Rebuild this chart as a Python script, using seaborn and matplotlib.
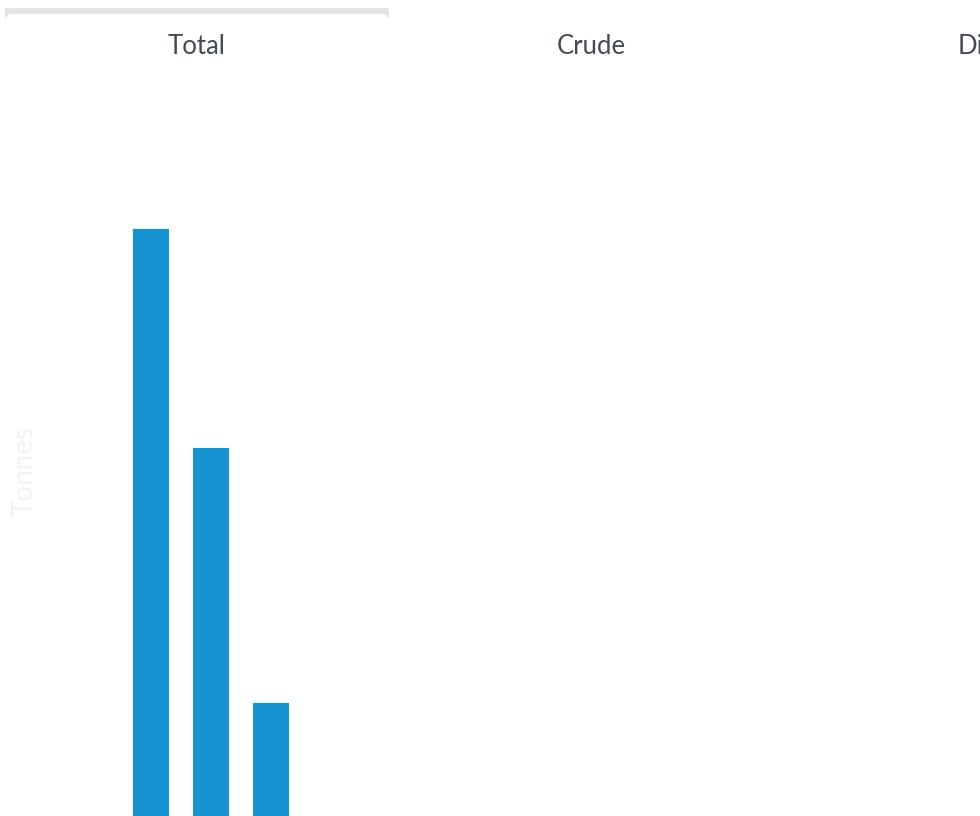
import matplotlib
matplotlib.use("Agg")
import matplotlib.pyplot as plt
from matplotlib.patches import FancyBboxPatch, Rectangle
import seaborn as sns
import pandas as pd

tabs = ["Total", "Crude", "Diesel"]
categories = ["A", "B", "C"]
values = [58.7, 36.8, 11.3]
bar_color = "#1592d2"

sns.set_theme(style="white")
plt.rcParams['font.family'] = ['Lato', 'DejaVu Sans']

W, H = 980, 816
fig = plt.figure(figsize=(W / 100, H / 100), dpi=100)
fig.patch.set_facecolor("white")

# chart axes: pixel x 60..980, y 100..816
ax = fig.add_axes([60 / W, 0, 920 / W, 716 / H])
df = pd.DataFrame({"cat": categories, "val": values})
sns.barplot(data=df, x="cat", y="val", color=bar_color, saturation=1, width=0.6,
            linewidth=0, ax=ax)
ax.set_xlim((60 - 151) / 60, (980 - 151) / 60)
ax.set_ylim(0, 71.6)
for s in ax.spines.values():
    s.set_visible(False)
ax.set_xticks([])
ax.set_yticks([])
ax.set_xlabel("")
ax.set_ylabel("")
ax.patch.set_alpha(0)

fig.text(25 / W, 1 - 471 / H, "Tonnes", rotation=90, ha="center", va="center",
         fontsize=20, color="#f3f3f3")

# tab bar
tab_ax = fig.add_axes([0, 0, 1, 1])
tab_ax.set_xlim(0, W)
tab_ax.set_ylim(H, 0)
tab_ax.axis("off")
tab_ax.patch.set_alpha(0)
tab_ax.add_patch(Rectangle((5, 8), 384, 10, facecolor="#e4e4e4", edgecolor="none"))
tab_ax.add_patch(FancyBboxPatch((6, 14), 382, 40, boxstyle="round,pad=0,rounding_size=6",
                                facecolor="white", edgecolor="none"))
for i, t in enumerate(tabs[:2]):
    tab_ax.text(197 + 394 * i, 47, t, ha="center", va="center", fontsize=18.5,
                color="#454a57")
# third tab label is cut off by the right edge in the reference
tab_ax.text(958, 47, tabs[2], ha="left", va="center", fontsize=18.5,
            color="#454a57", clip_on=True)

fig.savefig("out.png", dpi=100, facecolor="white")
